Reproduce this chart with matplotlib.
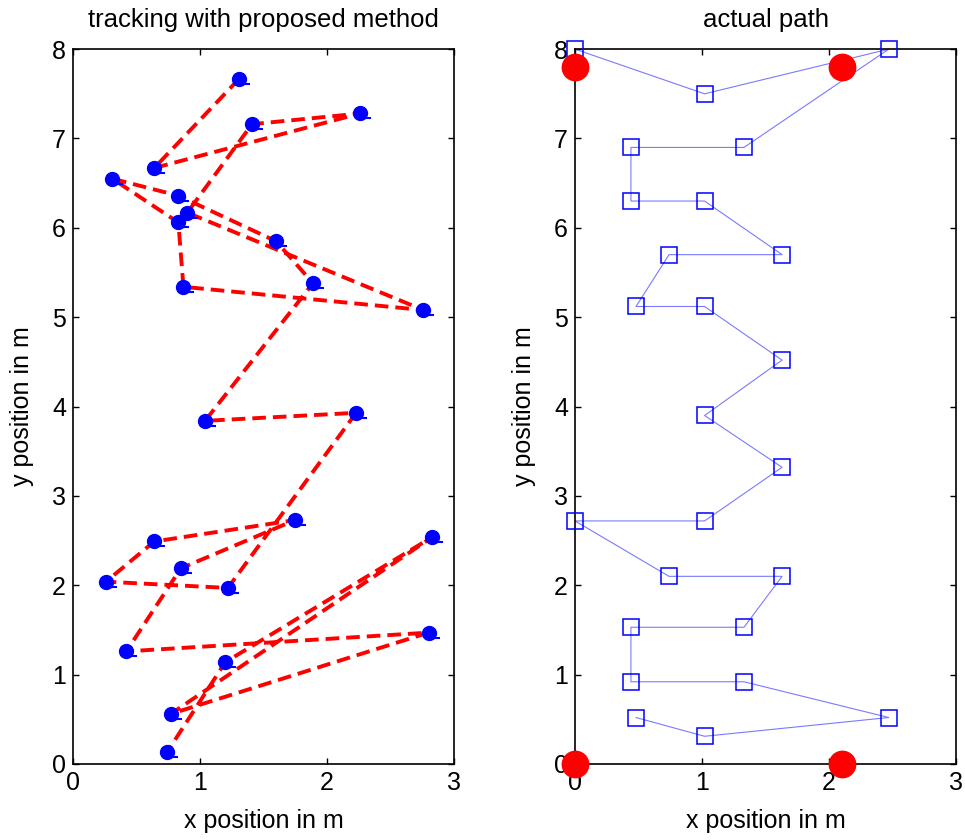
import matplotlib
matplotlib.use("Agg")
import matplotlib.pyplot as plt
import matplotlib.transforms as mtransforms

plt.rcParams['font.family'] = ['Liberation Sans', 'DejaVu Sans']

# estimated track (proposed method), in the order it is traced
track_x = [1.31, 0.64, 2.26, 1.41, 0.90, 2.76, 0.87, 0.83, 0.31, 0.83, 1.60, 1.89, 1.04,
           2.23, 1.22, 0.26, 0.64, 1.75, 0.85, 0.42, 2.80, 0.77, 2.83, 1.20, 0.74]
track_y = [7.67, 6.67, 7.28, 7.16, 6.17, 5.08, 5.34, 6.06, 6.55, 6.36, 5.85, 5.38, 3.84,
           3.93, 1.97, 2.04, 2.49, 2.73, 2.19, 1.26, 1.47, 0.56, 2.54, 1.14, 0.13]

# actual path
path_x = [0.0, 1.02, 2.47, 1.33, 0.44, 0.44, 1.02, 1.63, 0.74, 0.48, 1.02, 1.63, 1.02,
          1.63, 1.02, 0.0, 0.74, 1.63, 1.33, 0.44, 0.44, 1.33, 2.47, 1.02, 0.48]
path_y = [8.0, 7.5, 8.0, 6.9, 6.9, 6.3, 6.3, 5.7, 5.7, 5.12, 5.12, 4.52, 3.9,
          3.32, 2.72, 2.72, 2.1, 2.1, 1.53, 1.53, 0.92, 0.92, 0.52, 0.31, 0.52]

# anchor nodes
anchor_x = [0.0, 2.1, 0.0, 2.1]
anchor_y = [7.8, 7.8, 0.0, 0.0]

fig = plt.figure(figsize=(9.65, 8.4), dpi=100)
ax1 = fig.add_axes([0.0756, 0.0905, 0.3948, 0.851])
ax2 = fig.add_axes([0.5959, 0.0905, 0.3948, 0.851])

# left: tracking
ax1.plot(track_x, track_y, color='red', linestyle='--', linewidth=2.8, dashes=(3.5, 1.8), zorder=2)
ax1.plot(track_x, track_y, linestyle='none', marker='o', markersize=10, color='blue', zorder=3)
tail = mtransforms.offset_copy(ax1.transData, fig=fig, x=6, y=-5, units='dots')
ax1.plot(track_x, track_y, linestyle='none', marker='_', markersize=7, color='blue',
         markeredgewidth=1.5, transform=tail, zorder=3)
ax1.set_title("tracking with proposed method", fontsize=18.5, pad=16)

# right: actual path
ax2.plot(path_x, path_y, color='#7a7aff', linewidth=0.8, zorder=2, clip_on=False)
ax2.plot(path_x, path_y, linestyle='none', marker='s', markersize=11.5, markerfacecolor='none',
         markeredgecolor='blue', markeredgewidth=1.1, zorder=3, clip_on=False)
ax2.plot(anchor_x, anchor_y, linestyle='none', marker='o', markersize=19, color='red',
         zorder=4, clip_on=False)
ax2.set_title("actual path", fontsize=18.5, pad=16)

for ax in (ax1, ax2):
    ax.set_xlim(0, 3)
    ax.set_ylim(0, 8)
    ax.set_xticks([0, 1, 2, 3])
    ax.set_yticks(range(0, 9))
    ax.tick_params(direction='in', length=4, width=1, top=True, right=True, labelsize=18, pad=5)
    ax.set_xlabel("x position in m", fontsize=18, labelpad=10)
    ax.set_ylabel("y position in m", fontsize=18, labelpad=13)
    for s in ax.spines.values():
        s.set_linewidth(1.2)

fig.savefig("out.png", dpi=100)
